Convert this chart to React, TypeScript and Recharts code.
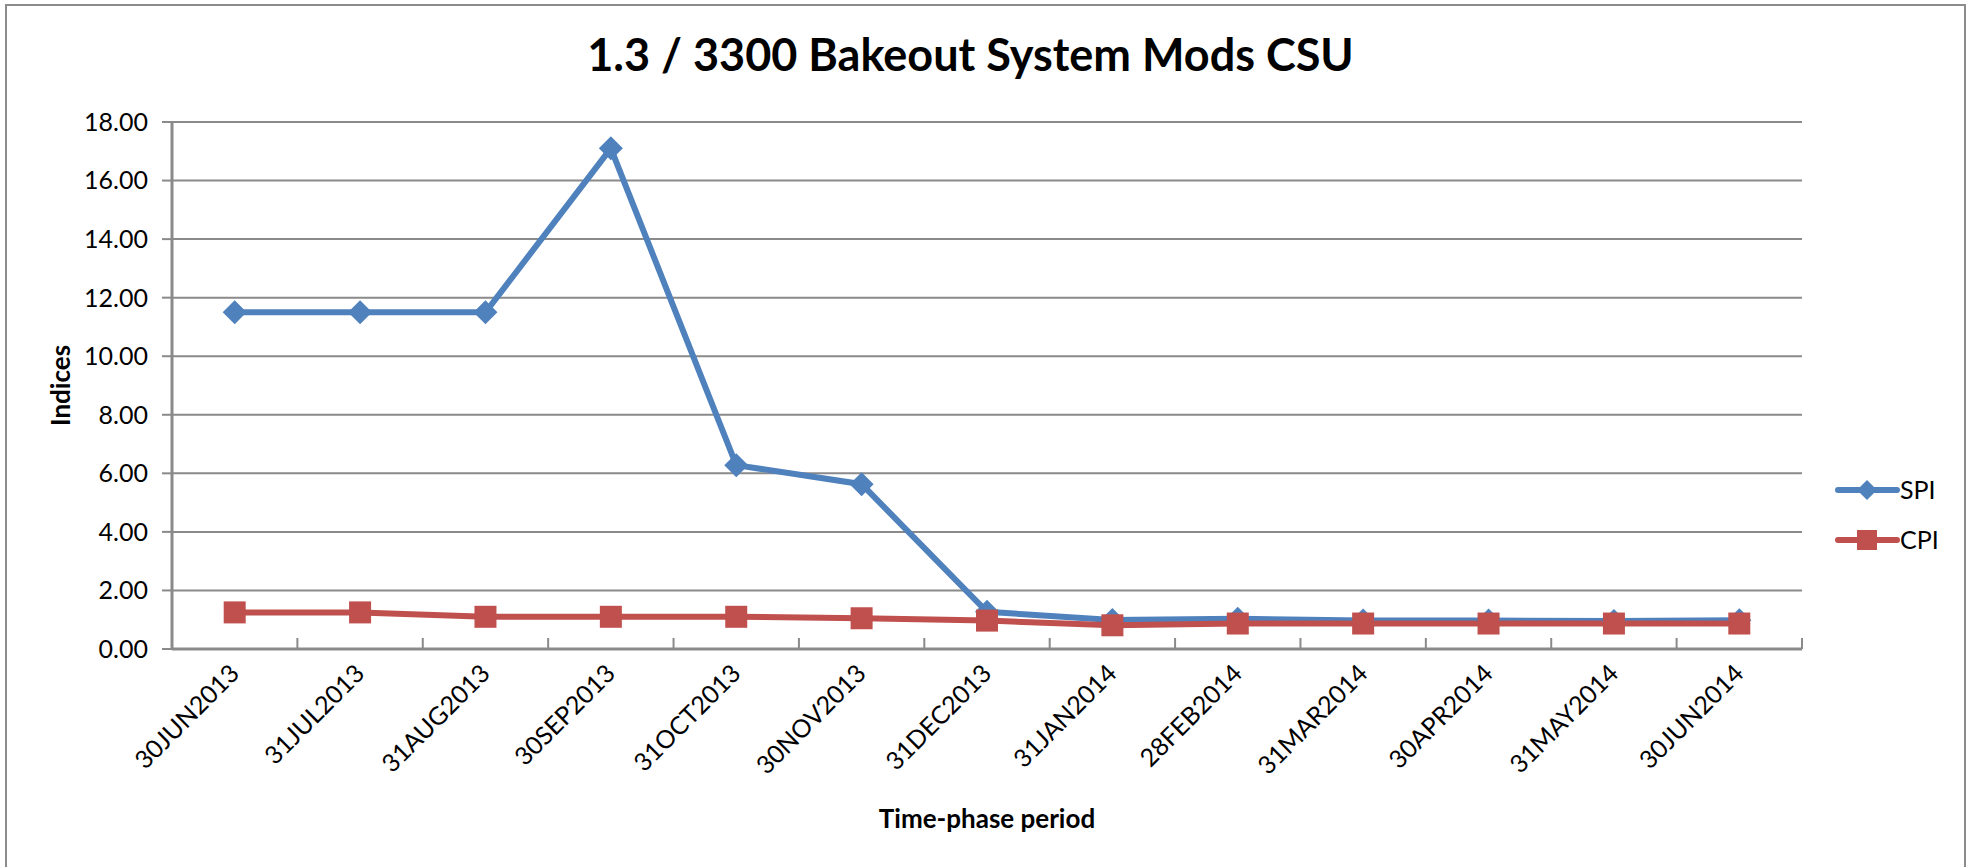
import { LineChart, Line, XAxis, YAxis, CartesianGrid, Label } from "recharts";

const periods = [
  "30JUN2013",
  "31JUL2013",
  "31AUG2013",
  "30SEP2013",
  "31OCT2013",
  "30NOV2013",
  "31DEC2013",
  "31JAN2014",
  "28FEB2014",
  "31MAR2014",
  "30APR2014",
  "31MAY2014",
  "30JUN2014",
];
const spi = [11.5, 11.5, 11.5, 17.1, 6.28, 5.63, 1.27, 0.99, 1.03, 0.97, 0.97, 0.96, 0.98];
const cpi = [1.25, 1.25, 1.1, 1.1, 1.1, 1.05, 0.97, 0.81, 0.87, 0.87, 0.87, 0.87, 0.87];
const yTicks = [0, 2, 4, 6, 8, 10, 12, 14, 16, 18];

const data = periods.map((period, i) => ({ period, SPI: spi[i], CPI: cpi[i] }));

const W = 1969;
const H = 867;
const FONT = "Lato, 'Open Sans', sans-serif";
const BLUE = "#4F81BD";
const RED = "#C0504D";
const GRID = "#8a8a8a";
const margin = { top: 122, right: 167, bottom: 0, left: 30 };
const yAxisWidth = 142;
const plotWidth = W - margin.left - margin.right - yAxisWidth;
const band = plotWidth / periods.length;

function Diamond(props: any) {
  const { cx, cy } = props;
  if (cx == null || cy == null) return null;
  const s = 12;
  return (
    <polygon
      points={`${cx},${cy - s} ${cx + s},${cy} ${cx},${cy + s} ${cx - s},${cy}`}
      fill={BLUE}
    />
  );
}

function Square(props: any) {
  const { cx, cy } = props;
  if (cx == null || cy == null) return null;
  const s = 11;
  return <rect x={cx - s} y={cy - s} width={s * 2} height={s * 2} fill={RED} />;
}

function XTick(props: any) {
  const { x, y, payload } = props;
  const bx = x + band / 2;
  return (
    <g>
      <line x1={bx} y1={y} x2={bx} y2={y - 11} stroke={GRID} strokeWidth={2} />
      <text
        x={x + 6}
        y={y + 26}
        textAnchor="end"
        fontSize={25}
        fontFamily={FONT}
        fill="#000"
        transform={`rotate(-45, ${x + 6}, ${y + 26})`}
      >
        {payload.value}
      </text>
    </g>
  );
}

function LegendBox() {
  const items = [
    { name: "SPI", color: BLUE, shape: "diamond" },
    { name: "CPI", color: RED, shape: "square" },
  ];
  return (
    <svg width={120} height={100} style={{ position: "absolute", left: 1835, top: 470 }}>
      {items.map((it, i) => {
        const cy = 20 + i * 50;
        return (
          <g key={it.name}>
            <line x1={3} y1={cy} x2={62} y2={cy} stroke={it.color} strokeWidth={6} strokeLinecap="round" />
            {it.shape === "diamond" ? (
              <polygon points={`32,${cy - 10} 42,${cy} 32,${cy + 10} 22,${cy}`} fill={it.color} />
            ) : (
              <rect x={22} y={cy - 10} width={20} height={20} fill={it.color} />
            )}
            <text x={65} y={cy + 9} fontSize={25} fontFamily={FONT} fill="#000">
              {it.name}
            </text>
          </g>
        );
      })}
    </svg>
  );
}

export default function App() {
  return (
    <div style={{ position: "absolute", left: 0, top: 0, width: W, height: H, background: "#fff" }}>
      <div
        style={{
          position: "absolute",
          left: 5,
          top: 4,
          width: W - 12,
          height: H - 6,
          border: "2px solid #8c8c8c",
        }}
      />
      <div
        style={{
          position: "absolute",
          left: 0,
          top: 27,
          width: W - 28,
          textAlign: "center",
          fontFamily: FONT,
          fontWeight: 700,
          fontSize: 45,
          color: "#000",
        }}
      >
        1.3 / 3300 Bakeout System Mods CSU
      </div>
      <LineChart width={W} height={H} data={data} margin={margin} style={{ position: "absolute", left: 0, top: 0 }}>
        <CartesianGrid vertical={false} stroke={GRID} strokeWidth={2} />
        <XAxis
          dataKey="period"
          height={218}
          interval={0}
          padding={{ left: band / 2, right: band / 2 }}
          tickSize={0}
          tickMargin={0}
          tick={<XTick />}
          axisLine={{ stroke: GRID, strokeWidth: 3 }}
        >
          <Label
            content={(p: any) => {
              const vb = p.viewBox;
              return (
                <text
                  x={vb.x + vb.width / 2}
                  y={vb.y + 179}
                  textAnchor="middle"
                  fontSize={26}
                  fontWeight={700}
                  fontFamily={FONT}
                  fill="#000"
                >
                  Time-phase period
                </text>
              );
            }}
          />
        </XAxis>
        <YAxis
          width={yAxisWidth}
          domain={[0, 18]}
          ticks={yTicks}
          interval={0}
          tickFormatter={(v: number) => v.toFixed(2)}
          tick={{ fontSize: 25, fontFamily: FONT, fill: "#000" }}
          tickSize={10}
          tickMargin={14}
          tickLine={{ stroke: GRID, strokeWidth: 2 }}
          axisLine={{ stroke: GRID, strokeWidth: 3 }}
        >
          <Label
            content={(p: any) => {
              const vb = p.viewBox;
              const cx = vb.x + 30;
              const cy = vb.y + vb.height / 2;
              return (
                <text
                  x={cx}
                  y={cy}
                  textAnchor="middle"
                  dominantBaseline="central"
                  fontSize={26}
                  fontWeight={700}
                  fontFamily={FONT}
                  fill="#000"
                  transform={`rotate(-90, ${cx}, ${cy})`}
                >
                  Indices
                </text>
              );
            }}
          />
        </YAxis>
        <Line
          type="linear"
          dataKey="SPI"
          stroke={BLUE}
          strokeWidth={6}
          dot={<Diamond />}
          activeDot={false}
          isAnimationActive={false}
        />
        <Line
          type="linear"
          dataKey="CPI"
          stroke={RED}
          strokeWidth={6}
          dot={<Square />}
          activeDot={false}
          isAnimationActive={false}
        />
      </LineChart>
      <LegendBox />
    </div>
  );
}
